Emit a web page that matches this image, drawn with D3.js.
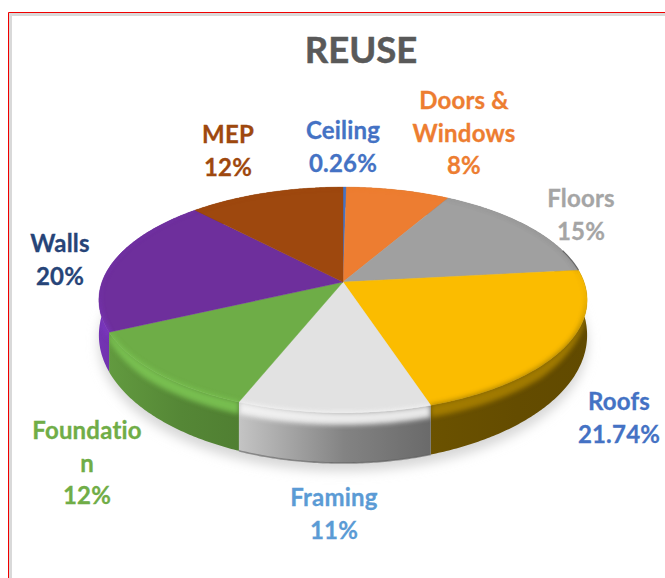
<!DOCTYPE html>
<html><head><meta charset="utf-8">
<script src="https://cdnjs.cloudflare.com/ajax/libs/d3/7.8.5/d3.min.js"></script>
<style>html,body{margin:0;padding:0;background:#fff;overflow:hidden}svg{display:block}text{font-family:Lato,"Open Sans",sans-serif;font-weight:700;text-anchor:middle}</style>
</head><body><svg id="c" width="665" height="578"></svg>
<script>
const titleText = "REUSE";
const categories = ["Ceiling","Doors & Windows","Floors","Roofs","Framing","Foundation","Walls","MEP"];
const values = [0.26,8,15,21.74,11,12,20,12];
const valueLabels = ["0.26%","8%","15%","21.74%","11%","12%","20%","12%"];

const labelLines = [["Ceiling"],["Doors &","Windows"],["Floors"],["Roofs"],["Framing"],["Foundatio","n"],["Walls"],["MEP"]];
const labelX = [343,464,581,619,334,87,60,228];
const labelTop = [139,109,207,410,506,439,252,143];
const topColors = ["#4472c4","#ed7d31","#a0a0a0","#fbbc00","#e2e2e2","#6ead47","#6e2f9c","#9e480e"];
const textColors = ["#4472c4","#ed7d31","#a5a5a5","#4472c4","#5b9bd5","#70ad47","#264478","#9e480e"];
const wallStart = ["#33558f","#b05c22","#777777","#6b5200","#c4c4c4","#629a3f","#7434b4","#763509"];
const wallEnd = ["#33558f","#b05c22","#777777","#614a00","#6a6a6a","#507f32","#612a92","#763509"];
const rimColors = ["#4472c4","#ed7d31","#5a5a5a","#a88000","#f6f6f6","#7cc452","#7e39c4","#9e480e"];

const svg = d3.select("#c"), W = 665, H = 578;
const defs = svg.append("defs");
const cx = 343, cy = 282, a = 241, b = 110, k = 0.159;
const xS = d3.scaleLinear().domain([-1,1]).range([cx-a,cx+a]);
const yS = d3.scaleLinear().domain([-1,1]).range([cy-b,cy+b]);
const wallBase = 33, wallFlare = 14.5, rimDepth = 12;

function proj(t, r){
  const u = r*Math.sin(t), v = -r*Math.cos(t), s = 1/(1-k*v);
  return {x:xS(u*s), y:yS(v*s), f:v*s};
}
const edge = t => { const p = proj(t,1); return [p.x,p.y]; };
const base = t => { const p = proj(t,1); return [p.x,p.y+wallBase+wallFlare*p.f]; };
const angles = (s,e) => { const n = Math.max(2,Math.ceil((e-s)/0.01)); return d3.range(n+1).map(i=>s+(e-s)*i/n); };
const line = d3.line();

const slices = d3.pie().sort(null).startAngle(0).endAngle(2*Math.PI)(values);

// frame
svg.append("path").attr("d",`M10.5,${H}V14.5H${W}`).attr("fill","none").attr("stroke","#d9d9d9").attr("stroke-width",3);
svg.append("path").attr("d",`M8.5,${H}V12.5H${W}`).attr("fill","none").attr("stroke","#f00000").attr("stroke-width",1);

// blur filters
defs.append("filter").attr("id","shadowBlur").attr("x","-20%").attr("y","-20%").attr("width","140%").attr("height","140%")
  .append("feGaussianBlur").attr("stdDeviation",6);
defs.append("filter").attr("id","rimBlur").attr("x","-10%").attr("y","-30%").attr("width","120%").attr("height","160%")
  .append("feGaussianBlur").attr("stdDeviation",2.6);

// soft shadow beneath
const full = angles(0,2*Math.PI);
svg.append("path").attr("d",line(full.map(t=>{const p=base(t);return [p[0],p[1]+8];}))+"Z")
  .attr("fill","#d6d6d6").attr("filter","url(#shadowBlur)");

// walls
slices.forEach((d,i)=>{
  const g = defs.append("linearGradient").attr("id","wg"+i).attr("x1",0).attr("x2",1).attr("y1",0).attr("y2",0);
  g.append("stop").attr("offset","0%").attr("stop-color",wallStart[i]);
  g.append("stop").attr("offset","55%").attr("stop-color",d3.interpolateRgb(wallStart[i],wallEnd[i])(0.72));
  g.append("stop").attr("offset","100%").attr("stop-color",wallEnd[i]);
  const ts = angles(d.startAngle,d.endAngle);
  const wall = ts.map(edge).concat(ts.slice().reverse().map(base));
  svg.append("path").attr("d",line(wall)+"Z").attr("fill",`url(#wg${i})`);
});

// darker foot along the Framing wall
{
  const ts = angles(slices[4].startAngle,slices[4].endAngle);
  svg.append("path").attr("d",line(ts.map(base))).attr("fill","none").attr("stroke","#5e5e5e").attr("stroke-width",1.6).attr("opacity",0.6);
}

// top surfaces
const topPath = d => {
  const ts = angles(d.startAngle,d.endAngle);
  return line([[cx,cy]].concat(ts.map(edge)))+"Z";
};
slices.forEach((d,i)=>{
  svg.append("path").attr("d",topPath(d)).attr("fill",topColors[i]).attr("stroke",topColors[i]).attr("stroke-width",0.4);
});

// bevel along the rim, clipped to each slice
slices.forEach((d,i)=>{
  const ts = angles(d.startAngle,d.endAngle);
  const clip = defs.append("clipPath").attr("id","cl"+i);
  clip.append("path").attr("d",topPath(d));
  clip.append("path").attr("d",line(ts.map(edge).concat(ts.slice().reverse().map(base)))+"Z");
  const inner = ts.map(t=>{const p=proj(t,0.995);return [p.x,p.y];});
  const outer = ts.map(t=>{const p=proj(t,1);const w=Math.max(0,p.f+0.15);return [p.x,p.y+rimDepth*Math.min(1,w*1.1)];});
  svg.append("g").attr("clip-path",`url(#cl${i})`)
    .append("path").attr("d",line(inner.concat(outer.reverse()))+"Z")
    .attr("fill",rimColors[i]).attr("opacity",0.9).attr("filter","url(#rimBlur)");
});

// dark rear edge on the Floors slice
{
  const ts = angles(slices[2].startAngle+0.75,slices[2].endAngle);
  svg.append("path").attr("d",line(ts.map(edge))).attr("fill","none").attr("stroke","#555").attr("stroke-width",1.2).attr("opacity",0.75);
}

// texts
svg.append("text").attr("x",361).attr("y",63).attr("font-size",36.5).attr("fill","#595959").attr("stroke","#595959").attr("stroke-width",0.5).text(titleText);
const lh = 32.5;
categories.forEach((c,i)=>{
  const lines = labelLines[i].concat([valueLabels[i]]);
  const t = svg.append("text").attr("aria-label",c).attr("font-size",24).attr("letter-spacing",0.2)
    .attr("fill",textColors[i]).attr("stroke",textColors[i]).attr("stroke-width",0.3);
  lines.forEach((s,j)=>t.append("tspan").attr("x",labelX[i]).attr("y",labelTop[i]+j*lh).text(s));
});
</script></body></html>
